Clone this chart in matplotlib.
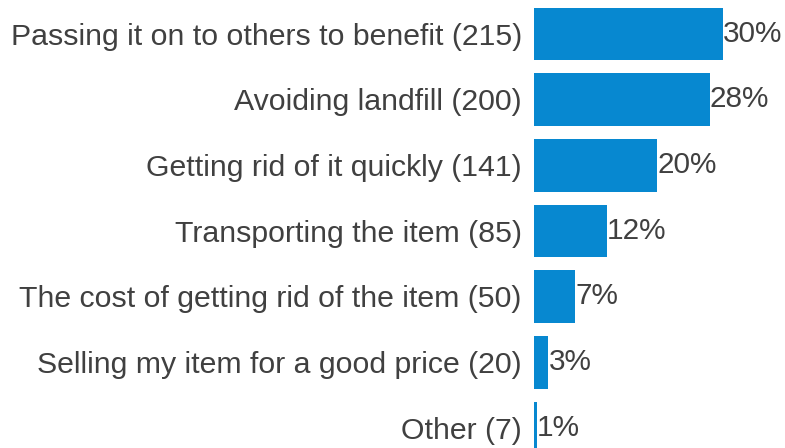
import numpy as np
import matplotlib.pyplot as plt

reasons = [
    "Passing it on to others to benefit",
    "Avoiding landfill",
    "Getting rid of it quickly",
    "Transporting the item",
    "The cost of getting rid of the item",
    "Selling my item for a good price",
    "Other",
]
counts = [215, 200, 141, 85, 50, 20, 7]

total = sum(counts)
pcts = [100 * c / total for c in counts]
labels = [f"{r} ({c})" for r, c in zip(reasons, counts)]

plt.rcParams['font.family'] = ['Liberation Sans', 'DejaVu Sans']
text_col = "#404040"
bar_col = "#0788D0"

fig = plt.figure(figsize=(7.85, 4.48), dpi=100)
ax = fig.add_axes([531.5 / 785, 0, 253.5 / 785, 1])

y = np.arange(len(counts))
# thin white outline trims each bar a little, like the original renderer
ax.barh(y, counts, height=0.85, color=bar_col, edgecolor="white",
        linewidth=2.16)
ax.set_xlim(0, 283.2)
ax.set_ylim(6.31, -0.51)

for yi, c, p in zip(y, counts, pcts):
    ax.annotate(f"{p:.0f}%", xy=(c, yi), xytext=(-0.5, 0),
                textcoords="offset points", va="center", ha="left",
                fontsize=21.4, color=text_col, zorder=5)

ax.set_yticks(y)
ax.set_yticklabels(labels, fontsize=21.8, color=text_col)
ax.tick_params(axis="y", length=0, pad=7)
ax.set_xticks([])
for s in ax.spines.values():
    s.set_visible(False)

fig.savefig("out.png", dpi=100)
